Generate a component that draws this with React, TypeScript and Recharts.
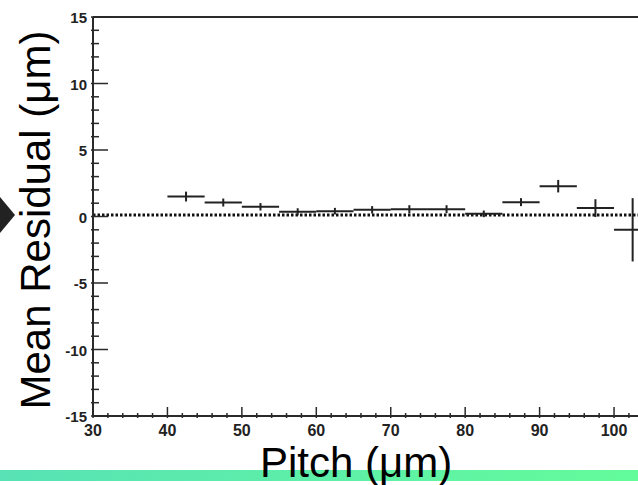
import { ComposedChart, Scatter, ErrorBar, XAxis, YAxis, ReferenceLine } from 'recharts';

// residual vs strip pitch, 5 um bins
const binCenters = [42.5, 47.5, 52.5, 57.5, 62.5, 67.5, 72.5, 77.5, 82.5, 87.5, 92.5, 97.5, 102.5];
const meanResidual = [1.5, 1.05, 0.73, 0.35, 0.4, 0.5, 0.55, 0.55, 0.2, 1.08, 2.28, 0.63, -1.0];
const residualError = [0.37, 0.3, 0.28, 0.27, 0.25, 0.28, 0.3, 0.3, 0.25, 0.3, 0.47, 0.67, 2.38];
const binHalfWidth = 2.5;
const meanLevel = 0.12;

const xTicks = [30, 32, 34, 36, 38, 40, 42, 44, 46, 48, 50, 52, 54, 56, 58, 60, 62, 64, 66, 68, 70, 72, 74, 76, 78, 80, 82, 84, 86, 88, 90, 92, 94, 96, 98, 100, 102];
const yTicks = [-15, -14, -13, -12, -11, -10, -9, -8, -7, -6, -5, -4, -3, -2, -1, 0, 1, 2, 3, 4, 5, 6, 7, 8, 9, 10, 11, 12, 13, 14, 15];

const data = binCenters.map((x, i) => ({
  pitch: x,
  residual: meanResidual[i],
  ex: binHalfWidth,
  ey: residualError[i],
}));

const AXIS = '#2a2a2a';
const FONT = '"Liberation Sans", Arial, Helvetica, sans-serif';

const YTick = (props: any) => {
  const { x, y, payload } = props;
  const major = payload.value % 5 === 0;
  return (
    <g>
      <line x1={x} x2={x + (major ? 17 : 8)} y1={y} y2={y} stroke={AXIS} strokeWidth={1.5} />
      {major && (
        <text x={x - 4} y={y} dy={6} textAnchor="end" fontFamily={FONT} fontWeight="bold" fontSize={15} fill="#222">
          {payload.value}
        </text>
      )}
    </g>
  );
};

const XTick = (props: any) => {
  const { x, y, payload } = props;
  const major = payload.value % 10 === 0;
  return (
    <g>
      <line x1={x} x2={x} y1={y} y2={y - (major ? 11 : 5)} stroke={AXIS} strokeWidth={1.5} />
      {major && (
        <text x={x} y={y} dy={18} textAnchor="middle" fontFamily={FONT} fontWeight="bold" fontSize={16} fill="#222">
          {payload.value}
        </text>
      )}
    </g>
  );
};

export default function App() {
  return (
    <div style={{ position: 'absolute', left: 0, top: 0, width: 638, height: 485, background: '#fff', overflow: 'hidden' }}>
      <div
        style={{
          position: 'absolute',
          left: 0,
          top: 470,
          width: 638,
          height: 11,
          background: 'linear-gradient(to right, #58e2b5, #63fc9b)',
        }}
      />
      <ComposedChart
        width={638}
        height={485}
        data={data}
        margin={{ top: 17, right: 0, bottom: 0, left: 0 }}
        style={{ position: 'absolute', left: 0, top: 0 }}
      >
        <XAxis
          dataKey="pitch"
          type="number"
          domain={[30, 103.22]}
          allowDataOverflow
          ticks={xTicks}
          interval={0}
          height={69}
          tickSize={0}
          tickLine={false}
          tick={<XTick />}
          axisLine={{ stroke: AXIS, strokeWidth: 2 }}
        />
        <YAxis
          dataKey="residual"
          type="number"
          domain={[-15, 15]}
          allowDataOverflow
          ticks={yTicks}
          interval={0}
          width={93}
          tickSize={0}
          tickLine={false}
          tick={<YTick />}
          axisLine={{ stroke: AXIS, strokeWidth: 2 }}
        />
        <ReferenceLine y={15} stroke={AXIS} strokeWidth={2} />
        <ReferenceLine y={meanLevel} stroke="#111" strokeWidth={3} strokeDasharray="2.5 2" />
        <Scatter dataKey="residual" shape={() => <g />} isAnimationActive={false}>
          <ErrorBar dataKey="ex" direction="x" width={0} stroke="#222" strokeWidth={2} isAnimationActive={false} />
          <ErrorBar dataKey="ey" direction="y" width={0} stroke="#222" strokeWidth={2} isAnimationActive={false} />
        </Scatter>
      </ComposedChart>
      <svg width={638} height={485} style={{ position: 'absolute', left: 0, top: 0, pointerEvents: 'none' }}>
        <polygon points="0,197 15,215 0,233 -15,215" fill="#222" />
        <text
          x={0}
          y={0}
          transform="translate(50,220) rotate(-90)"
          textAnchor="middle"
          fontFamily={FONT}
          fontSize={42}
          fill="#000"
        >
          Mean Residual (μm)
        </text>
        <text x={260} y={477} fontFamily={FONT} fontSize={42} fill="#000">
          Pitch (μm)
        </text>
      </svg>
    </div>
  );
}
